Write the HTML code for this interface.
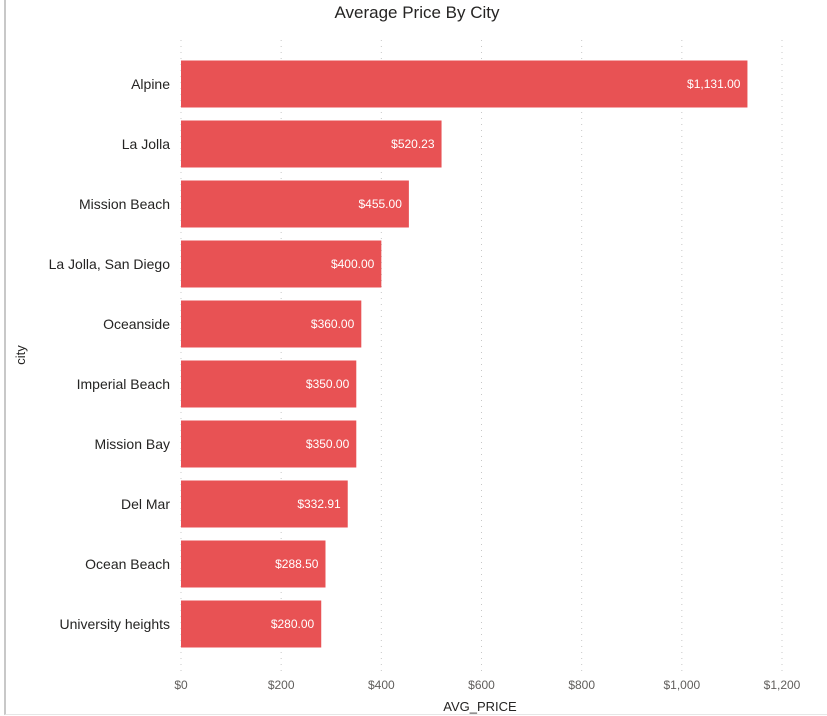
<!DOCTYPE html>
<html><head><meta charset="utf-8"><style>
html,body{margin:0;padding:0;background:#fff;}
body{width:827px;height:716px;overflow:hidden;position:relative;font-family:"Liberation Sans",sans-serif;}
</style></head><body>
<div style="position:absolute;left:4px;top:0;width:823px;height:714px;border-left:2px solid #c8c8c8;border-bottom:1px solid #e6e6e6;"></div>
<svg id="chart" width="827" height="716" style="position:absolute;left:0;top:0" xmlns="http://www.w3.org/2000/svg">
<text x="417" y="18" text-anchor="middle" font-size="17" fill="#252423" font-family="Liberation Sans, sans-serif">Average Price By City</text>
<text x="480" y="711" text-anchor="middle" font-size="13" fill="#252423" font-family="Liberation Sans, sans-serif">AVG_PRICE</text>
<text x="0" y="0" transform="translate(25,355) rotate(-90)" text-anchor="middle" font-size="13" fill="#252423" font-family="Liberation Sans, sans-serif">city</text>
<g id="grid"></g><g id="bars"></g><g id="labels"></g>
</svg>
<script>
const cities=["Alpine","La Jolla","Mission Beach","La Jolla, San Diego","Oceanside","Imperial Beach","Mission Bay","Del Mar","Ocean Beach","University heights"];
const prices=[1131,520.23,455,400,360,350,350,332.91,288.5,280];
const ticks=[0,200,400,600,800,1000,1200];
const NS="http://www.w3.org/2000/svg";
const x0=181,x1=782,xmax=1200;
const xs=v=>x0+(x1-x0)*v/xmax;
const top0=54,step=60,bh=47,pad=6.5;
const yb=i=>top0+i*step+pad;
const fmt=v=>"$"+v.toLocaleString("en-US",{minimumFractionDigits:2,maximumFractionDigits:2});
const mk=(t,a)=>{const e=document.createElementNS(NS,t);for(const k in a)e.setAttribute(k,a[k]);return e;};
const g=document.getElementById("grid"),b=document.getElementById("bars"),l=document.getElementById("labels");
ticks.forEach(t=>{
  const ln=mk("line",{x1:xs(t),x2:xs(t),y1:40,y2:672,stroke:"#c8c8c8","stroke-dasharray":"1,5","stroke-width":1});
  
  
  g.appendChild(ln);
  const tx=mk("text",{x:xs(t),y:689,"text-anchor":"middle","font-size":12,fill:"#605e5c"});
  tx.textContent=t===0?"$0":"$"+t.toLocaleString("en-US");
  
  
  g.appendChild(tx);
});
cities.forEach((c,i)=>{
  const r=mk("rect",{x:x0,y:yb(i),width:xs(prices[i])-x0,height:bh,fill:"#E85254"});
  
  
  b.appendChild(r);
  const cy=yb(i)+bh/2+5;
  const yl=mk("text",{x:170,y:cy,"text-anchor":"end","font-size":14,fill:"#252423"});
  yl.textContent=c;
  
  
  l.appendChild(yl);
  const vl=mk("text",{x:xs(prices[i])-7,y:cy-1,"text-anchor":"end","font-size":12,fill:"#ffffff"});
  vl.textContent=fmt(prices[i]);
  
  
  l.appendChild(vl);
});
</script>
</body></html>
